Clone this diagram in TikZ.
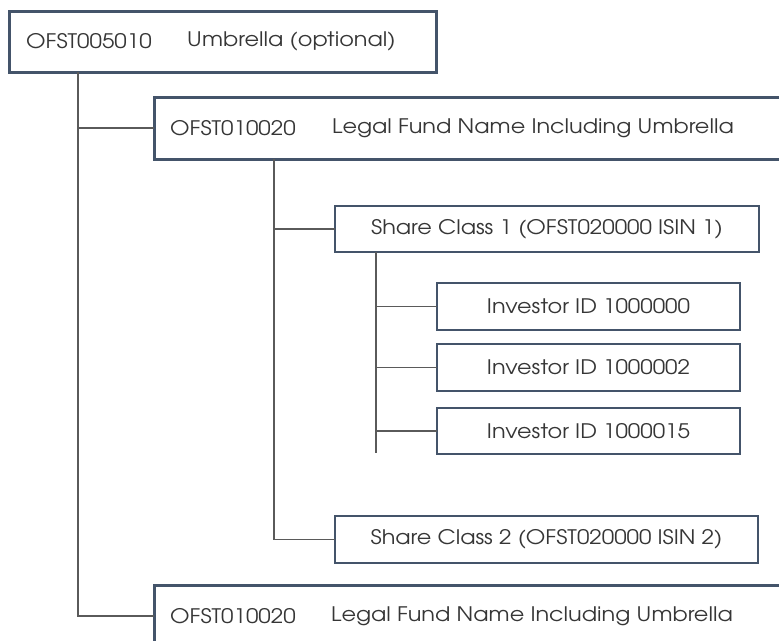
\documentclass[tikz,border=0pt]{standalone}
\usepackage{fontspec}
\setmainfont[FakeStretch=1.12]{TeX Gyre Adventor}
\definecolor{boxline}{HTML}{44546A}
\definecolor{conn}{HTML}{5A5A5A}
\definecolor{txt}{HTML}{363636}
\tikzset{
  bigbox/.style={draw=boxline, line width=3pt, fill=white, inner sep=0pt, outer sep=0pt, anchor=north west},
  smallbox/.style={draw=boxline, line width=1.6pt, fill=white, inner sep=0pt, outer sep=0pt, anchor=north west, text=txt, font=\fontsize{20}{22}\selectfont},
  label/.style={anchor=west, inner sep=0pt, text=txt, font=\fontsize{20}{22}\selectfont},
  link/.style={draw=conn, line width=1.5pt}
}
\begin{document}
\begin{tikzpicture}[x=1pt, y=-1pt]
\clip (0,0) rectangle (779,640);
\fill[white] (0,0) rectangle (779,640);
% boxes
\node[bigbox, minimum width=427pt, minimum height=61pt] (b1) at (9,11) {};
\node[bigbox, minimum width=640pt, minimum height=62pt] (b2) at (154,97) {};
\node[bigbox, minimum width=640pt, minimum height=62pt] (b3) at (154,585) {};
\node[smallbox, minimum width=424pt, minimum height=46pt] (sc1) at (335,206) {Share Class 1 (OFST020000 ISIN 1)};
\node[smallbox, minimum width=303pt, minimum height=47pt] (i1) at (437,283) {Investor ID 1000000};
\node[smallbox, minimum width=303pt, minimum height=47pt] (i2) at (437,344) {Investor ID 1000002};
\node[smallbox, minimum width=303pt, minimum height=46pt] (i3) at (437,408) {Investor ID 1000015};
\node[smallbox, minimum width=423pt, minimum height=47pt] (sc2) at (335,516) {Share Class 2 (OFST020000 ISIN 2)};
% texts in big boxes
\node[label] (b1a) at (26,41.5) {OFST005010};
\node[label] (b1b) at (187,41.5) {Umbrella (optional)};
\node[label] (b2a) at (170,128) {OFST010020};
\node[label] (b2b) at (332,128) {Legal Fund Name Including Umbrella};
\node[label] (b3a) at (170,616) {OFST010020};
\node[label] (b3b) at (331,616) {Legal Fund Name Including Umbrella};
% connectors
\coordinate (e1) at ([xshift=41pt]sc1.south west |- 0,453);
\draw[link] ([xshift=69pt]b1.south west) |- (b2.west);
\draw[link] ([xshift=69pt]b1.south west) |- (b3.west);
\draw[link] ([xshift=120pt]b2.south west) |- (sc1.west);
\draw[link] ([xshift=120pt]b2.south west) |- (sc2.west);
\draw[link] ([xshift=41pt]sc1.south west) -- (e1);
\draw[link] ([xshift=41pt]sc1.south west) |- (i1.west);
\draw[link] ([xshift=41pt]sc1.south west) |- (i2.west);
\draw[link] ([xshift=41pt]sc1.south west) |- (i3.west);
\end{tikzpicture}
\end{document}
